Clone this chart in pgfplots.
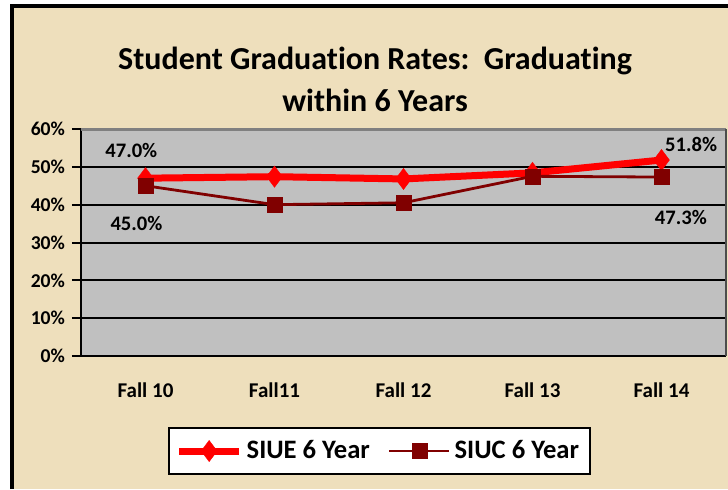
\documentclass[border=0pt]{standalone}
\usepackage{fontspec}
\setmainfont{Carlito}[Ligatures={NoCommon}]
\usepackage{pgfplots}
\pgfplotsset{compat=1.18}
\definecolor{parch}{RGB}{238,223,188}
\definecolor{plotgray}{RGB}{192,192,192}
\definecolor{siue}{RGB}{255,0,0}
\definecolor{siuc}{RGB}{128,0,0}

\begin{document}
\begin{tikzpicture}[x=0.5pt,y=0.5pt]
% page and parchment frame, in pixel units (0.5pt each)
\fill[white] (0,0) rectangle (728,489);
\fill[parch] (12,0) rectangle (728,483);
\draw[black,line width=2pt] (12,0) -- (12,483) -- (728,483);
\node[font=\bfseries\fontsize{16}{21}\selectfont, align=center] at (375,410)
  {Student Graduation Rates:\ \ Graduating\\within 6 Years};

\begin{axis}[
  at={(40.5pt,66.5pt)}, anchor=south west,
  width=322.5pt, height=113.5pt, scale only axis,
  xmin=-0.5, xmax=4.5, ymin=0, ymax=60,
  xtick={0,1,2,3,4},
  xticklabels={Fall 10,Fall11,Fall 12,Fall 13,Fall 14},
  ytick={0,10,20,30,40,50,60},
  yticklabel={\pgfmathprintnumber{\tick}\%},
  /pgf/number format/assume math mode=true,
  yticklabel style={font=\bfseries\fontsize{9.8}{11}\selectfont},
  xticklabel style={font=\bfseries\fontsize{10.5}{12}\selectfont, yshift=-5.5pt},
  major x tick style={draw=none},
  ytick pos=left,
  tick align=outside, major tick length=4.5pt,
  ytick style={black,line width=1pt},
  ymajorgrids, grid style={black,line width=1pt},
  axis line style={draw=none},
  axis background/.style={fill=plotgray},
  clip=false,
  legend style={at={(0.4625,-0.4185)}, anchor=center, legend columns=2,
    draw=black, line width=1pt, fill=white,
    font=\bfseries\fontsize{13.3}{15}\selectfont,
    inner xsep=3.5pt, inner ysep=4pt,
    /tikz/every even column/.append style={column sep=7pt}},
  legend image code/.code={
    \draw[#1] (0pt,0pt) -- (30pt,0pt);
    \draw[#1,mark repeat=2,mark phase=2] plot coordinates {(0pt,0pt)(15pt,0pt)(30pt,0pt)};
  },
]
\addplot[color=siue, line width=3.5pt, mark=diamond*,
  mark size=5.3pt, mark options={solid, fill=siue, line width=0.2pt}]
  coordinates {(0,47.0) (1,47.4) (2,46.8) (3,48.4) (4,51.8)};
\addplot[color=siuc, line width=1.4pt, mark=square*,
  mark size=3.75pt, mark options={solid, fill=siuc, line width=0.2pt}]
  coordinates {(0,45.0) (1,40.0) (2,40.5) (3,47.5) (4,47.3)};
\legend{SIUE 6 Year, SIUC 6 Year}

% plot area border
\draw[black,line width=1pt] (rel axis cs:0,1) -- (rel axis cs:0,0) -- (rel axis cs:1,0);
\draw[gray,line width=1.5pt] (rel axis cs:0,1) -- (rel axis cs:1,1);
\draw[black!70,line width=1pt] (rel axis cs:1,1) -- (rel axis cs:1,0);

% data labels
\begin{scope}[font=\bfseries\fontsize{10.3}{12}\selectfont]
\node at (axis cs:-0.11,54.2) {47.0\%};
\node at (axis cs:-0.07,34.9) {45.0\%};
\node at (axis cs:4.23,55.8) {51.8\%};
\node at (axis cs:4.15,36.5) {47.3\%};
\end{scope}
\end{axis}
\pgfresetboundingbox
\useasboundingbox (0,0) rectangle (728,489);
\end{tikzpicture}
\end{document}
